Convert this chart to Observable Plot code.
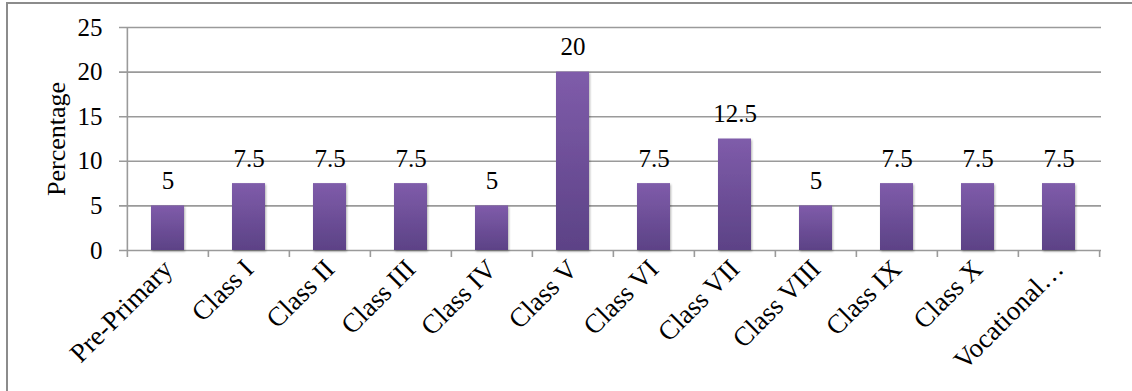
<!DOCTYPE html>
<html>
<head>
<meta charset="utf-8">
<script src="https://cdn.jsdelivr.net/npm/d3@7"></script>
<script src="https://cdn.jsdelivr.net/npm/@observablehq/plot@0.6"></script>
<style>
  html, body { margin: 0; padding: 0; background: #fff; }
  #frame { position: absolute; left: 6px; top: 2px; width: 1126px; height: 389px;
           border-left: 2px solid #8c8c8c; border-top: 2px solid #8c8c8c; box-sizing: border-box; }
  #chart { position: absolute; left: 0; top: 0; }
</style>
</head>
<body>
<div id="frame"></div>
<div id="chart"></div>
<script>
const categories = ["Pre-Primary", "Class I", "Class II", "Class III", "Class IV", "Class V",
  "Class VI", "Class VII", "Class VIII", "Class IX", "Class X", "Vocational…"];
const percentages = [5, 7.5, 7.5, 7.5, 5, 20, 7.5, 12.5, 5, 7.5, 7.5, 7.5];
const valueLabels = ["5", "7.5", "7.5", "7.5", "5", "20", "7.5", "12.5", "5", "7.5", "7.5", "7.5"];
const yTicks = [0, 5, 10, 15, 20, 25];
const yTitle = "Percentage";

const data = categories.map((c, i) => ({category: c, value: percentages[i], label: valueLabels[i]}));

const W = 1132, H = 391;
const mL = 126, mR = 31, mT = 27, mB = 141;
const step = (W - mL - mR) / categories.length;
const pxPerUnit = (H - mT - mB) / 25;
const tickLen = 7;
const font = "'Liberation Serif', 'Times New Roman', serif";

const defs = () => {
  const g = d3.create("svg:defs");
  const lg = g.append("linearGradient").attr("id", "barGrad").attr("x1", 0).attr("y1", 0).attr("x2", 0).attr("y2", 1);
  lg.append("stop").attr("offset", "0%").attr("stop-color", "#7f5caa");
  lg.append("stop").attr("offset", "100%").attr("stop-color", "#5c4286");
  const f = g.append("filter").attr("id", "barShadow").attr("x", "-20%").attr("y", "-10%").attr("width", "150%").attr("height", "130%");
  f.append("feDropShadow").attr("dx", 1).attr("dy", 1.5).attr("stdDeviation", 1.2).attr("flood-color", "#000").attr("flood-opacity", 0.3);
  return g.node();
};

const chart = Plot.plot({
  width: W, height: H,
  marginLeft: mL, marginRight: mR, marginTop: mT, marginBottom: mB,
  style: {fontFamily: font, fontSize: "25px", color: "#000", background: "transparent"},
  x: {domain: categories, paddingInner: 0.59, paddingOuter: 0.295, label: null},
  y: {domain: [0, 25], ticks: yTicks, label: null},
  marks: [
    defs,
    Plot.ruleY(yTicks, {stroke: "#9a9a9a", strokeWidth: 1.6, insetLeft: -tickLen}),
    Plot.barY(data, {x: "category", y: "value", fill: "url(#barGrad)"}),
    Plot.ruleX([categories[0]], {x: d => d, y1: 25, y2: -tickLen / pxPerUnit, dx: -step / 2, stroke: "#9a9a9a", strokeWidth: 1.6}),
    Plot.ruleX(categories.slice(1), {x: d => d, y1: 0, y2: -tickLen / pxPerUnit, dx: -step / 2, stroke: "#9a9a9a", strokeWidth: 1.6}),
    Plot.ruleX([categories[categories.length - 1]], {x: d => d, y1: 0, y2: -tickLen / pxPerUnit, dx: step / 2, stroke: "#9a9a9a", strokeWidth: 1.6}),
    Plot.axisY({ticks: yTicks, tickSize: 0, tickPadding: 24, fontSize: 25, label: null}),
    Plot.axisX({tickSize: 0, tickRotate: -45, tickPadding: 14, fontSize: 27, label: null}),
    Plot.text(data, {x: "category", y: "value", text: "label", dy: -25, fontSize: 25, fill: "#000"}),
    Plot.text([yTitle], {frameAnchor: "left", text: d => d, rotate: -90, textAnchor: "middle", dx: -70, fontSize: 26, fill: "#000"})
  ]
});

d3.select(chart).selectAll("rect")
  .filter(function() { return this.getAttribute("fill") === "url(#barGrad)" || (this.parentNode && this.parentNode.getAttribute && this.parentNode.getAttribute("fill") === "url(#barGrad)"); })
  .attr("filter", "url(#barShadow)");

document.getElementById("chart").appendChild(chart);
</script>
</body>
</html>
